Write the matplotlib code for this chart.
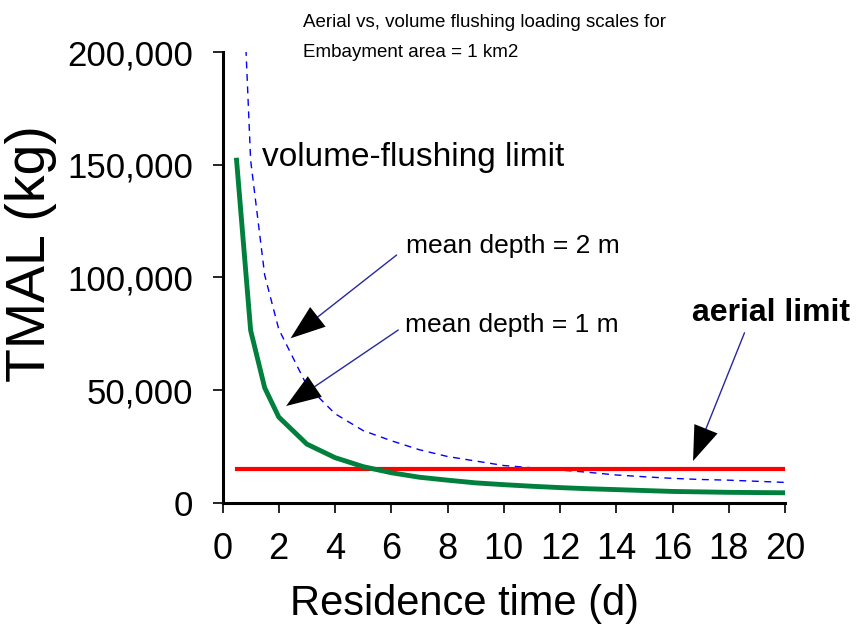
import matplotlib
matplotlib.use('Agg')
import matplotlib.pyplot as plt

plt.rcParams['font.family'] = ['Liberation Sans', 'DejaVu Sans']

# residence time (d)
days = [0.5, 1, 1.5, 2, 3, 4, 5, 6, 7, 8, 9, 10, 11, 12, 13, 14, 15, 16, 17, 18, 19, 20]
# mean depth = 1 m (green)
tmal_1m = [152000, 76500, 51000, 38000, 26000, 20000, 16000, 13300, 11300, 10000, 8800,
           8000, 7300, 6700, 6200, 5800, 5400, 5000, 4800, 4600, 4500, 4400]
# mean depth = 2 m (blue dashed), first value runs off the top of the axis
tmal_2m = [300000, 152000, 101000, 77000, 52000, 39500, 32000, 27500, 23500, 20500, 18500,
           16500, 15500, 14500, 13500, 12300, 11500, 10800, 10300, 10000, 9500, 9000]
# aerial limit (red)
aerial_days = [0.5, 20]
aerial_tmal = [15000, 15000]

x_ticks = list(range(0, 21, 2))
y_ticks = [0, 50000, 100000, 150000, 200000]
y_ticklabels = ['0', '50,000', '100,000', '150,000', '200,000']

W, H = 858, 631
fig = plt.figure(figsize=(W / 100, H / 100), dpi=100)
ax = fig.add_axes([222.5 / W, 1 - 502.7 / H, (785 - 222.5) / W, (502.7 - 52) / H])

ax.plot(days, tmal_2m, color='#0000ff', lw=1.0, ls=(0, (5, 4)))
ax.plot(aerial_days, aerial_tmal, color='#ff0000', lw=3)
ax.plot(days, tmal_1m, color='#00803c', lw=3.5)

ax.set_xlim(0, 20)
ax.set_ylim(0, 200000)
ax.set_xticks(x_ticks)
ax.set_yticks(y_ticks)
ax.set_yticklabels(y_ticklabels)
for s in ['top', 'right']:
    ax.spines[s].set_visible(False)
for s in ['left', 'bottom']:
    ax.spines[s].set_linewidth(2.2)
ax.tick_params(axis='x', direction='out', length=7, width=1.2, labelsize=26, pad=14)
ax.tick_params(axis='y', direction='out', length=7, width=1.2, labelsize=25, pad=14)

ax.set_xlabel('Residence time (d)', fontsize=30, va='baseline')
ax.xaxis.set_label_coords(0.431, -0.249)
ax.set_ylabel('TMAL (kg)', fontsize=40, va='center')
ax.yaxis.set_label_coords(-0.34, 0.552)

# text annotations
ax.text(1.39, 149550, 'volume-flushing limit', fontsize=24, va='baseline')
ax.text(6.54, 110670, 'mean depth = 2 m', fontsize=19, va='baseline')
ax.text(6.48, 75880, 'mean depth = 1 m', fontsize=19, va='baseline')
ax.text(16.70, 80760, 'aerial limit', fontsize=23, fontweight='bold', va='baseline')

fig.text(303 / W, 1 - 27.3 / H, 'Aerial vs, volume flushing loading scales for', fontsize=13.5, va='baseline')
fig.text(303 / W, 1 - 57.3 / H, 'Embayment area = 1 km2', fontsize=13.5, va='baseline')


# thin blue line with a big black head
def pointer(tail, tip):
    ax.annotate('', xy=tip, xytext=tail,
                arrowprops=dict(arrowstyle='-', color='#2828a0', lw=1.0, shrinkA=0, shrinkB=8))
    ax.annotate('', xy=tip, xytext=tail,
                arrowprops=dict(arrowstyle='-|>,head_length=1.25,head_width=0.45', fc='black',
                                ec='black', lw=0, mutation_scale=20, shrinkA=0, shrinkB=0))


pointer((6.19, 109900), (2.42, 72950))
pointer((6.25, 76640), (2.26, 42900))
pointer((18.56, 75400), (16.73, 18500))

fig.savefig('out.png', dpi=100)
